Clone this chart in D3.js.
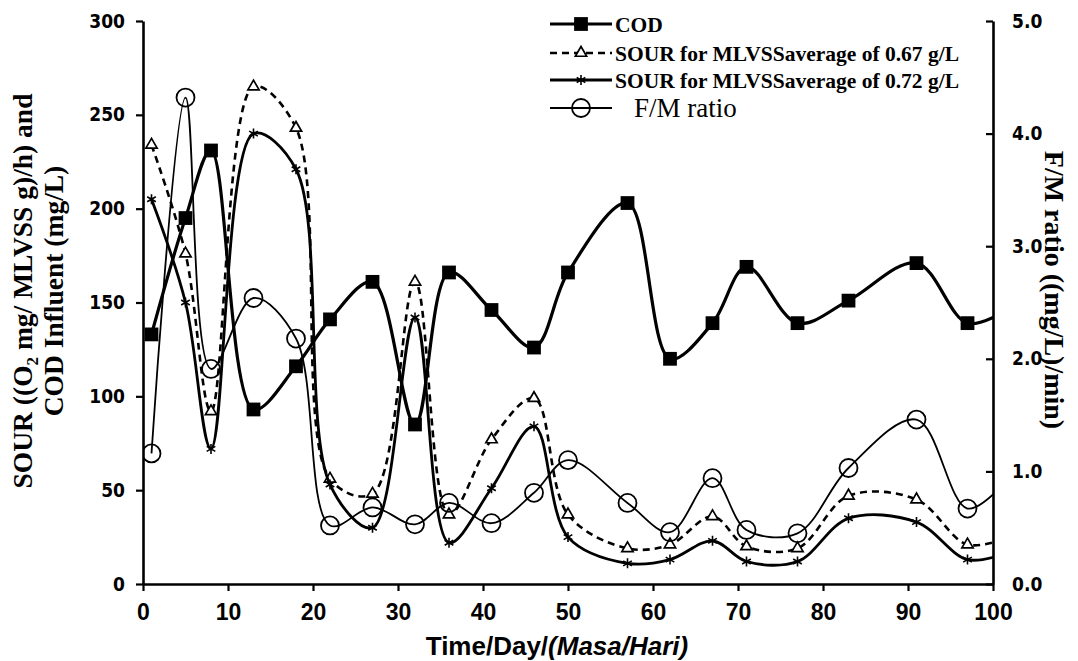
<!DOCTYPE html>
<html>
<head>
<meta charset="utf-8">
<script src="https://cdn.jsdelivr.net/npm/d3@7"></script>
<style>
  body { margin: 0; background: #fff; }
  svg { display: block; }
</style>
</head>
<body>
<svg id="chart" width="1078" height="661"></svg>
<script>
// sampling days (last one sits past the axis end and gets clipped)
const days = [1, 5, 8, 13, 18, 22, 27, 32, 36, 41, 46, 50, 57, 62, 67, 71, 77, 83, 91, 97, 102];
const cod = [133, 195, 231, 93, 116, 141, 161, 85, 166, 146, 126, 166, 203, 120, 139, 169, 139, 151, 171, 139, 147];
const sour067 = [234, 176, 92, 265, 243, 56, 48, 161, 37, 77, 99, 37, 19, 21, 36, 20, 19, 47, 45, 21, 25];
const sour072 = [205, 150, 72, 240, 221, 53, 30, 142, 22, 51, 84, 25, 11, 13, 23, 12, 12, 35, 33, 13, 17];
const fmRatio = [1.16, 4.32, 1.91, 2.54, 2.18, 0.52, 0.68, 0.53, 0.72, 0.54, 0.81, 1.1, 0.72, 0.46, 0.94, 0.48, 0.45, 1.03, 1.46, 0.67, 0.95];

const xTicks = [0, 10, 20, 30, 40, 50, 60, 70, 80, 90, 100];
const leftTicks = [0, 50, 100, 150, 200, 250, 300];
const rightTicks = [0, 1, 2, 3, 4, 5];

const svg = d3.select("#chart");

const xScale = d3.scaleLinear().domain([0, 100]).range([143, 993]);
const yLeft = d3.scaleLinear().domain([0, 300]).range([584, 21]);
const yRight = d3.scaleLinear().domain([0, 5]).range([584, 21]);

svg.append("clipPath").attr("id", "plotClip")
  .append("rect")
  .attr("x", xScale(0)).attr("y", 0)
  .attr("width", xScale(100) - xScale(0)).attr("height", yLeft(0));

const series = [
  { name: "COD", values: cod, y: yLeft, width: 3.2, dash: null, marker: "square" },
  { name: "SOUR for MLVSSaverage of 0.67 g/L", values: sour067, y: yLeft, width: 2.6, dash: "7,5", marker: "triangle" },
  { name: "SOUR for MLVSSaverage of 0.72 g/L", values: sour072, y: yLeft, width: 2.8, dash: null, marker: "star" },
  { name: "F/M ratio", values: fmRatio, y: yRight, width: 1.8, dash: null, marker: "circle" },
];

const drawMarker = (g, kind) => {
  if (kind === "square") {
    g.append("path").attr("d", d3.symbol(d3.symbolSquare, 190)()).attr("fill", "#000");
  } else if (kind === "triangle") {
    g.append("path").attr("d", d3.symbol(d3.symbolTriangle, 55)())
      .attr("fill", "#fff").attr("stroke", "#000").attr("stroke-width", 1.7);
  } else if (kind === "star") {
    g.append("path").attr("d", d3.symbol(d3.symbolAsterisk, 70)())
      .attr("fill", "none").attr("stroke", "#000").attr("stroke-width", 1.6);
  } else {
    g.append("circle").attr("r", 9)
      .attr("fill", "none").attr("stroke", "#000").attr("stroke-width", 1.8);
  }
};

const plot = svg.append("g").attr("clip-path", "url(#plotClip)");

series.forEach((s) => {
  const pts = days.map((d, i) => ({ day: d, v: s.values[i] }));
  const line = d3.line()
    .x((d) => xScale(d.day))
    .y((d) => s.y(d.v))
    .curve(d3.curveCatmullRom.alpha(0.5));

  plot.append("path")
    .datum(pts)
    .attr("d", line)
    .attr("fill", "none")
    .attr("stroke", "#000")
    .attr("stroke-width", s.width)
    .attr("stroke-dasharray", s.dash);

  plot.selectAll(null)
    .data(pts.filter((d) => d.day <= 100))
    .enter()
    .append("g")
    .attr("transform", (d) => `translate(${xScale(d.day)},${s.y(d.v)})`)
    .each(function () {
      drawMarker(d3.select(this), s.marker);
    });
});

// axes
const styleAxis = (g) => {
  g.select(".domain").attr("stroke", "#000").attr("stroke-width", 2.6);
  g.selectAll(".tick line").attr("stroke", "#000").attr("stroke-width", 2.2);
  g.selectAll(".tick text").attr("fill", "#000");
};

svg.append("g")
  .attr("transform", `translate(${xScale(0)},0)`)
  .call(d3.axisLeft(yLeft).tickValues(leftTicks).tickSize(7).tickSizeOuter(0).tickPadding(11))
  .call(styleAxis)
  .selectAll(".tick text")
  .attr("font-family", "'DejaVu Sans Condensed', 'DejaVu Sans', sans-serif")
  .attr("font-weight", "bold")
  .attr("font-size", 19);

svg.append("g")
  .attr("transform", `translate(${xScale(100)},0)`)
  .call(d3.axisRight(yRight).tickValues(rightTicks).tickSize(-7).tickSizeOuter(0).tickPadding(19)
    .tickFormat(d3.format(".1f")))
  .call(styleAxis)
  .selectAll(".tick text")
  .attr("font-family", "'DejaVu Sans Condensed', 'DejaVu Sans', sans-serif")
  .attr("font-weight", "bold")
  .attr("font-size", 19);

svg.append("g")
  .attr("transform", `translate(0,${yLeft(0)})`)
  .call(d3.axisBottom(xScale).tickValues(xTicks).tickSize(7).tickSizeOuter(0).tickPadding(13))
  .call(styleAxis)
  .selectAll(".tick text")
  .attr("font-family", "'Liberation Sans Narrow', 'Arial Narrow', sans-serif")
  .attr("font-weight", "bold")
  .attr("font-size", 23);

// axis titles
const leftTitle = svg.append("g")
  .attr("font-family", "'Liberation Serif', 'Times New Roman', serif")
  .attr("font-weight", "bold")
  .attr("font-size", 27.5)
  .attr("text-anchor", "middle");

const line1 = leftTitle.append("text").attr("transform", "translate(32,291) rotate(-90)");
line1.append("tspan").text("SOUR ((O");
line1.append("tspan").text("2").attr("font-size", 17).attr("dy", 6);
line1.append("tspan").text(" mg/ MLVSS g)/h) and").attr("dy", -6);

leftTitle.append("text")
  .attr("transform", "translate(63,291) rotate(-90)")
  .text("COD Influent (mg/L)");

svg.append("text")
  .attr("transform", "translate(1045,290) rotate(90)")
  .attr("text-anchor", "middle")
  .attr("font-family", "'Liberation Serif', 'Times New Roman', serif")
  .attr("font-weight", "bold")
  .attr("font-size", 28)
  .text("F/M ratio ((mg/L)/min)");

const xTitle = svg.append("text")
  .attr("x", 557)
  .attr("y", 655)
  .attr("text-anchor", "middle")
  .attr("font-family", "'Liberation Sans Narrow', 'Arial Narrow', sans-serif")
  .attr("font-weight", "bold")
  .attr("font-size", 26);
xTitle.append("tspan").text("Time/Day/");
xTitle.append("tspan").attr("font-style", "italic").text("(Masa/Hari)");

// legend
const legend = svg.append("g").attr("transform", "translate(550,24)");
const legendRows = legend.selectAll(".legendRow")
  .data(series)
  .enter()
  .append("g")
  .attr("class", "legendRow")
  .attr("transform", (d, i) => `translate(0,${[0, 29, 56, 84][i]})`);

legendRows.append("line")
  .attr("x1", 0).attr("x2", 62)
  .attr("stroke", "#000")
  .attr("stroke-width", (d) => d.width)
  .attr("stroke-dasharray", (d) => d.dash);

legendRows.append("g")
  .attr("transform", "translate(31,0)")
  .each(function (d) {
    drawMarker(d3.select(this), d.marker);
  });

legendRows.append("text")
  .attr("x", (d) => (d.marker === "circle" ? 84 : 65))
  .attr("dy", "0.35em")
  .attr("font-family", "'Liberation Serif', 'Times New Roman', serif")
  .attr("font-weight", (d) => (d.marker === "circle" ? "normal" : "bold"))
  .attr("font-size", (d) => (d.marker === "circle" ? 27 : 21.5))
  .text((d) => d.name);
</script>
</body>
</html>
